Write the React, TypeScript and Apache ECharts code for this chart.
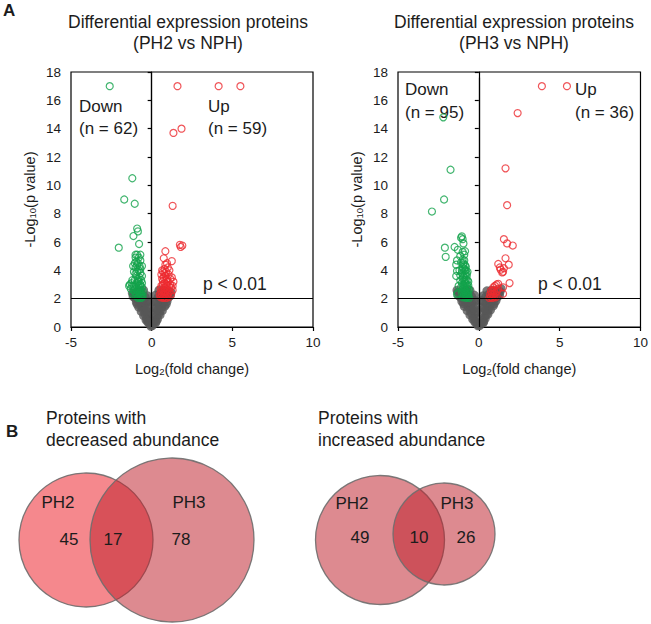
import React, { useEffect, useRef } from "react";
import * as echarts from "echarts";

// ---- Volcano plot data: [log2 fold change, -log10 p] ----
const ph2Grey: number[][] = [
  [-0.05, 0.05], [-0.1, 0.2], [-0.2, 0.35], [-0.15, 0.55], [-0.3, 0.6], [-0.25, 0.85], [-0.4, 0.9],
  [-0.35, 1.15], [-0.5, 1.2], [-0.45, 1.45], [-0.6, 1.4], [-0.55, 1.7], [-0.7, 1.65], [-0.65, 1.95],
  [-0.8, 1.9], [-0.75, 2.2], [-0.9, 2.1], [-1.0, 2.0], [-1.05, 2.3], [-0.85, 2.45], [-0.6, 2.3],
  [-0.4, 2.1], [-0.3, 1.8], [-0.2, 1.4], [-0.12, 1.0], [-0.25, 2.2], [-0.5, 2.6], [-1.15, 2.15],
  [-0.95, 1.75], [-0.8, 1.4], [-0.65, 1.1], [-0.5, 0.8], [-0.35, 0.5], [-0.4, 1.7], [-0.15, 1.8],
  [-1.2, 2.4], [-0.7, 2.55], [-0.3, 1.3], [-0.55, 2.0], [-0.9, 1.6], [-0.25, 0.35],
  [0.05, 0.1], [0.12, 0.3], [0.2, 0.5], [0.28, 0.4], [0.3, 0.75], [0.42, 0.9], [0.38, 1.2],
  [0.52, 1.15], [0.48, 1.5], [0.62, 1.45], [0.58, 1.75], [0.72, 1.7], [0.68, 2.0], [0.82, 1.95],
  [0.78, 2.25], [0.92, 2.15], [1.02, 2.05], [1.08, 2.3], [0.88, 2.5], [0.55, 2.35], [0.4, 2.1],
  [0.3, 1.75], [0.2, 1.35], [0.12, 0.95], [0.25, 2.25], [0.45, 2.6], [1.15, 2.2], [0.95, 1.8],
  [0.8, 1.45], [0.66, 1.15], [0.52, 0.85], [0.36, 0.55], [0.42, 1.65], [0.15, 1.8], [1.2, 2.45],
  [0.72, 2.6], [0.3, 1.3], [0.55, 2.0], [0.9, 1.6], [0.25, 0.3],
];

const ph2Down: number[][] = [
  [-2.6, 17.0], [-1.2, 10.5], [-1.7, 9.0], [-1.05, 8.7], [-0.9, 6.95], [-0.85, 6.75], [-1.13, 6.42],
  [-0.78, 5.86], [-2.04, 5.6], [-1.0, 5.1], [-0.7, 5.1],
  [-0.6, 2.1], [-0.7, 2.2], [-0.8, 2.1], [-0.9, 2.3], [-1.0, 2.2], [-0.65, 2.5], [-0.75, 2.6],
  [-0.85, 2.5], [-0.95, 2.7], [-1.1, 2.6], [-0.6, 2.8], [-0.7, 3.0], [-0.8, 2.9], [-0.9, 3.1],
  [-1.0, 3.0], [-1.2, 2.9], [-1.35, 3.0], [-1.3, 2.7], [-1.2, 3.3], [-0.65, 3.3], [-0.75, 3.5],
  [-0.85, 3.4], [-0.95, 3.6], [-1.05, 3.3], [-0.7, 3.8], [-0.8, 4.0], [-0.9, 3.9], [-1.0, 4.2],
  [-0.75, 4.3], [-0.85, 4.5], [-0.95, 4.6], [-1.05, 4.5], [-0.7, 4.7], [-0.8, 4.9], [-1.0, 4.9],
  [-0.9, 5.1], [-1.15, 4.3], [-1.1, 3.9], [-0.6, 3.6], [-1.25, 3.1], [-1.4, 2.9], [-0.65, 2.3],
  [-0.95, 2.4], [-1.15, 2.35], [-0.7, 4.1], [-0.9, 4.35], [-0.6, 3.1], [-1.0, 3.75], [-0.85, 3.2],
  [-0.75, 2.75], [-1.1, 2.9], [-0.55, 2.2], [-0.55, 2.5], [-0.65, 2.05], [-0.85, 2.05],
  [-0.75, 2.4], [-0.9, 2.55], [-0.7, 2.9], [-0.8, 3.25], [-1.05, 2.45], [-0.6, 4.3],
];

const ph2Up: number[][] = [
  [1.6, 17.0], [4.15, 17.0], [5.5, 17.0], [1.35, 13.7], [1.85, 14.0], [1.3, 8.55], [1.75, 5.8],
  [1.9, 5.75], [1.8, 5.65], [0.85, 5.35], [0.75, 4.85], [1.25, 4.65],
  [0.55, 2.1], [0.65, 2.2], [0.75, 2.1], [0.85, 2.3], [0.95, 2.2], [1.05, 2.1], [0.6, 2.5],
  [0.7, 2.6], [0.8, 2.5], [0.9, 2.7], [1.0, 2.6], [1.1, 2.5], [1.2, 2.8], [0.6, 2.9], [0.7, 3.0],
  [0.8, 3.1], [0.9, 3.0], [1.0, 3.2], [1.15, 3.0], [1.3, 2.9], [1.35, 3.2], [0.65, 3.4],
  [0.75, 3.5], [0.85, 3.6], [0.95, 3.4], [1.05, 3.7], [0.7, 3.9], [0.8, 4.1], [0.9, 3.9],
  [1.0, 4.2], [0.85, 4.4], [1.1, 4.0], [1.3, 2.6], [1.25, 3.5], [0.55, 2.7], [0.6, 2.35],
  [0.75, 2.35], [1.0, 2.35], [0.9, 3.3], [0.7, 3.25], [1.1, 2.8], [0.6, 3.7], [0.95, 2.9],
  [0.8, 3.8], [1.15, 3.4], [0.65, 4.0], [0.95, 4.5], [0.5, 2.3], [0.7, 2.05], [0.9, 2.05],
  [0.8, 2.75], [1.2, 2.3],
];

const ph3Grey: number[][] = [
  [-0.05, 0.08], [-0.12, 0.25], [-0.22, 0.4], [-0.18, 0.6], [-0.32, 0.65], [-0.28, 0.9], [-0.45, 0.95],
  [-0.4, 1.2], [-0.56, 1.25], [-0.5, 1.5], [-0.66, 1.45], [-0.62, 1.75], [-0.78, 1.7], [-0.72, 2.0],
  [-0.9, 1.95], [-0.85, 2.25], [-1.0, 2.15], [-1.1, 2.05], [-1.15, 2.35], [-0.95, 2.5], [-0.65, 2.35],
  [-0.45, 2.15], [-0.35, 1.85], [-0.22, 1.45], [-0.14, 1.05], [-0.28, 2.25], [-0.55, 2.6],
  [-1.25, 2.2], [-1.05, 1.8], [-0.9, 1.45], [-0.72, 1.15], [-0.55, 0.85], [-0.38, 0.55],
  [-0.45, 1.7], [-0.18, 1.85], [-1.3, 2.45], [-0.8, 2.6], [-1.35, 2.6], [-0.3, 1.3], [-0.6, 2.05],
  [-0.95, 1.65], [-0.25, 0.35],
  [0.06, 0.1], [0.14, 0.3], [0.24, 0.45], [0.3, 0.35], [0.34, 0.7], [0.46, 0.9], [0.42, 1.2],
  [0.58, 1.2], [0.52, 1.5], [0.68, 1.5], [0.64, 1.8], [0.8, 1.75], [0.76, 2.05], [0.92, 2.0],
  [0.88, 2.3], [1.04, 2.2], [1.14, 2.1], [1.2, 2.35], [1.0, 2.55], [0.6, 2.3], [0.42, 2.1],
  [0.32, 1.8], [0.22, 1.4], [0.14, 1.0], [0.26, 2.2], [0.5, 2.55], [1.28, 2.25], [1.06, 1.85],
  [0.9, 1.5], [0.72, 1.2], [0.56, 0.9], [0.4, 0.6], [0.46, 1.7], [0.16, 1.85], [1.32, 2.5],
  [0.78, 2.6], [1.38, 2.7], [0.32, 1.3], [0.6, 2.0], [0.95, 1.65], [0.26, 0.3],
];

const ph3Down: number[][] = [
  [-2.2, 14.8], [-1.75, 11.1], [-2.15, 9.0], [-2.9, 8.15], [-1.05, 6.4], [-1.0, 6.2], [-1.1, 6.3],
  [-0.95, 5.9], [-2.1, 5.6], [-2.05, 4.95], [-1.5, 5.65], [-1.3, 5.45], [-0.85, 5.35], [-1.15, 5.0],
  [-1.35, 4.7], [-1.4, 4.4], [-0.9, 4.7], [-0.95, 4.4], [-0.85, 4.0], [-1.35, 3.95], [-1.4, 3.6],
  [-1.15, 3.65], [-1.25, 2.9], [-1.3, 2.4], [-1.35, 2.3],
  [-0.6, 2.05], [-0.7, 2.1], [-0.8, 2.05], [-0.9, 2.15], [-1.0, 2.1], [-0.65, 2.35], [-0.75, 2.4],
  [-0.85, 2.35], [-0.95, 2.45], [-1.05, 2.4], [-0.6, 2.65], [-0.7, 2.7], [-0.8, 2.65], [-0.9, 2.75],
  [-1.0, 2.7], [-1.1, 2.8], [-0.65, 2.95], [-0.75, 3.0], [-0.85, 3.05], [-0.95, 3.0], [-1.05, 3.1],
  [-0.7, 3.3], [-0.8, 3.35], [-0.9, 3.3], [-1.0, 3.4], [-0.75, 3.6], [-0.85, 3.7], [-0.95, 3.65],
  [-1.05, 3.8], [-0.8, 4.0], [-0.9, 4.1], [-1.0, 4.2], [-0.85, 4.35], [-0.95, 4.5], [-1.0, 4.75],
  [-1.1, 4.55], [-0.9, 5.1], [-1.0, 5.3], [-0.65, 3.2], [-0.7, 2.5], [-1.15, 3.3], [-1.2, 4.0],
  [-0.75, 2.2], [-0.85, 2.55], [-0.95, 2.85], [-0.7, 3.9], [-0.8, 4.25], [-1.05, 4.0],
  [-0.65, 2.2], [-0.8, 2.3], [-0.9, 2.6], [-0.7, 2.85], [-0.85, 3.2], [-0.95, 3.5], [-0.75, 3.75],
];

const ph3Up: number[][] = [
  [3.9, 17.0], [5.45, 17.0], [2.4, 15.1], [1.65, 11.2], [1.75, 8.6], [1.55, 6.2], [1.75, 5.9],
  [2.1, 5.75], [1.65, 4.85], [1.2, 4.45], [1.85, 4.4], [1.35, 4.05], [1.45, 3.85], [1.3, 4.2],
  [1.55, 4.15], [1.5, 3.9], [1.9, 3.1], [1.2, 3.05], [1.0, 2.9], [1.5, 2.8], [1.5, 2.35], [1.1, 3.0],
  [0.65, 2.05], [0.75, 2.1], [0.85, 2.05], [0.95, 2.15], [1.05, 2.1], [0.7, 2.3], [0.8, 2.35],
  [0.9, 2.3], [1.0, 2.4], [0.75, 2.55], [0.85, 2.6], [0.95, 2.55], [1.1, 2.5], [0.9, 2.8], [1.2, 2.7],
];

const xTicks = { min: -5, max: 10, interval: 5 };
const yTicks = { min: 0, max: 18, interval: 2 };
const pCutoff = 2; // -log10(0.01)

const panels = [
  { title: "(PH2 vs NPH)", down: "(n = 62)", up: "(n = 59)" },
  { title: "(PH3 vs NPH)", down: "(n = 95)", up: "(n = 36)" },
];

// ---- Venn counts ----
const decreasedCounts = [45, 17, 78]; // PH2 only, both, PH3 only
const increasedCounts = [49, 10, 26];

const FONT = '"Liberation Sans", Arial, Helvetica, sans-serif';
const INK = "#1c1c1c";
const GREEN = "#13a24b";
const RED = "#ec2a2f";

function buildOption() {
  const grids = [
    { left: 71, top: 72, width: 242, height: 255 },
    { left: 398, top: 72, width: 243, height: 255 },
  ];

  const nameRich = {
    n: { fontSize: 14.5, color: INK, fontFamily: FONT, lineHeight: 17, verticalAlign: "bottom" },
    s: { fontSize: 9.5, color: INK, fontFamily: FONT, lineHeight: 13, verticalAlign: "bottom" },
  };

  const xAxes = grids.map((_, i) => ({
    type: "value",
    gridIndex: i,
    ...xTicks,
    axisLine: { show: true, lineStyle: { color: "#000", width: 1.2 } },
    axisTick: { show: true, inside: false, length: 4, lineStyle: { color: "#000", width: 1.2 } },
    splitLine: { show: false },
    axisLabel: { fontSize: 13.5, color: INK, margin: 8, fontFamily: FONT },
    name: "{n|Log}{s|2}{n|(fold change)}",
    nameLocation: "middle",
    nameGap: 32,
    nameTextStyle: { fontFamily: FONT, rich: nameRich },
  }));

  const yAxes = grids.map((_, i) => ({
    type: "value",
    gridIndex: i,
    ...yTicks,
    axisLine: { show: true, lineStyle: { color: "#000", width: 1.2 } },
    axisTick: { show: true, inside: false, length: 4, lineStyle: { color: "#000", width: 1.2 } },
    splitLine: { show: false },
    axisLabel: { fontSize: 13.5, color: INK, margin: 10, fontFamily: FONT },
    name: "{n|-Log}{s|10}{n|(p value)}",
    nameLocation: "middle",
    nameGap: 34,
    nameTextStyle: { fontFamily: FONT, rich: nameRich },
  }));

  const greySets = [ph2Grey, ph3Grey];
  const downSets = [ph2Down, ph3Down];
  const upSets = [ph2Up, ph3Up];
  const vTop = [18, 17.6];

  const series: any[] = [];
  for (let i = 0; i < 2; i++) {
    series.push({
      type: "scatter",
      xAxisIndex: i,
      yAxisIndex: i,
      data: greySets[i],
      symbol: "circle",
      symbolSize: 9,
      itemStyle: { color: "#575757" },
      silent: true,
      z: 2,
    });
    series.push({
      type: "scatter",
      xAxisIndex: i,
      yAxisIndex: i,
      data: downSets[i],
      symbol: "circle",
      symbolSize: 7,
      itemStyle: { color: "rgba(0,0,0,0)", borderColor: GREEN, borderWidth: 1.2 },
      silent: true,
      z: 3,
    });
    series.push({
      type: "scatter",
      xAxisIndex: i,
      yAxisIndex: i,
      data: upSets[i],
      symbol: "circle",
      symbolSize: 7,
      itemStyle: { color: "rgba(0,0,0,0)", borderColor: RED, borderWidth: 1.2 },
      silent: true,
      z: 3,
    });
    series.push({
      type: "scatter",
      xAxisIndex: i,
      yAxisIndex: i,
      data: [],
      silent: true,
      z: 5,
      markLine: {
        silent: true,
        symbol: "none",
        animation: false,
        label: { show: false },
        lineStyle: { color: "#000", width: 1.2, type: "solid" },
        data: [
          [{ coord: [xTicks.min, pCutoff] }, { coord: [xTicks.max, pCutoff] }],
          [{ coord: [0, 0] }, { coord: [0, vTop[i]] }],
        ],
      },
    });
  }

  const txt = (text: string, x: number, y: number, size: number, align = "left", weight = "normal") => ({
    type: "text",
    x,
    y,
    silent: true,
    style: {
      text,
      fontSize: size,
      fontFamily: FONT,
      fontWeight: weight,
      fill: INK,
      align,
      verticalAlign: "middle",
    },
  });

  const circle = (cx: number, cy: number, r: number, fill: string) => ({
    type: "circle",
    shape: { cx, cy, r },
    silent: true,
    style: { fill, stroke: "rgba(110,110,110,0.9)", lineWidth: 1.3 },
  });

  const venn = (
    counts: number[],
    c1: [number, number, number, string],
    c2: [number, number, number, string],
    pos: { ph2: [number, number]; ph3: [number, number]; n: [number, number, number]; ny: number }
  ) => [
    circle(c1[0], c1[1], c1[2], c1[3]),
    circle(c2[0], c2[1], c2[2], c2[3]),
    txt("PH2", pos.ph2[0], pos.ph2[1], 17, "center"),
    txt("PH3", pos.ph3[0], pos.ph3[1], 17, "center"),
    txt(String(counts[0]), pos.n[0], pos.ny, 17, "center"),
    txt(String(counts[1]), pos.n[1], pos.ny, 17, "center"),
    txt(String(counts[2]), pos.n[2], pos.ny, 17, "center"),
  ];

  const graphic: any[] = [
    txt("A", 3, 10, 17, "left", "bold"),
    txt("Differential expression proteins", 188, 22, 17.5, "center"),
    txt(panels[0].title, 188, 43, 17.5, "center"),
    txt("Differential expression proteins", 514, 22, 17.5, "center"),
    txt(panels[1].title, 514, 43, 17.5, "center"),

    txt("Down", 79, 106, 17),
    txt(panels[0].down, 79, 128, 17),
    txt("Up", 208, 106, 17),
    txt(panels[0].up, 208, 128, 17),
    txt("p < 0.01", 203, 284, 17.5),

    txt("Down", 405, 89, 17),
    txt(panels[1].down, 405, 112, 17),
    txt("Up", 575, 89, 17),
    txt(panels[1].up, 575, 112, 17),
    txt("p < 0.01", 538, 284, 17.5),

    txt("B", 6, 431, 17, "left", "bold"),
    txt("Proteins with", 46, 418, 17.5),
    txt("decreased abundance", 46, 440, 17.5),
    txt("Proteins with", 318, 418, 17.5),
    txt("increased abundance", 318, 440, 17.5),

    ...venn(
      decreasedCounts,
      [86, 540, 67, "rgba(236,30,40,0.53)"],
      [172, 540, 82, "rgba(190,30,42,0.52)"],
      { ph2: [58, 502], ph3: [189, 502], n: [69, 113, 181], ny: 539 }
    ),
    ...venn(
      increasedCounts,
      [380, 540, 64.5, "rgba(190,30,42,0.52)"],
      [444, 534, 51, "rgba(190,30,42,0.52)"],
      { ph2: [352, 503], ph3: [457, 503], n: [360, 419, 466], ny: 537 }
    ),
  ];

  return {
    animation: false,
    backgroundColor: "#fff",
    textStyle: { fontFamily: FONT },
    grid: grids.map((g) => ({
      ...g,
      show: true,
      borderColor: "#000",
      borderWidth: 1.2,
      backgroundColor: "transparent",
      containLabel: false,
    })),
    xAxis: xAxes,
    yAxis: yAxes,
    series,
    graphic,
  };
}

export default function App() {
  const ref = useRef<HTMLDivElement>(null);

  useEffect(() => {
    document.body.style.margin = "0";
    if (!ref.current) return;
    const chart = echarts.init(ref.current, undefined, { renderer: "svg" });
    chart.setOption(buildOption() as any);
    return () => chart.dispose();
  }, []);

  return <div ref={ref} style={{ width: 651, height: 624 }} />;
}
